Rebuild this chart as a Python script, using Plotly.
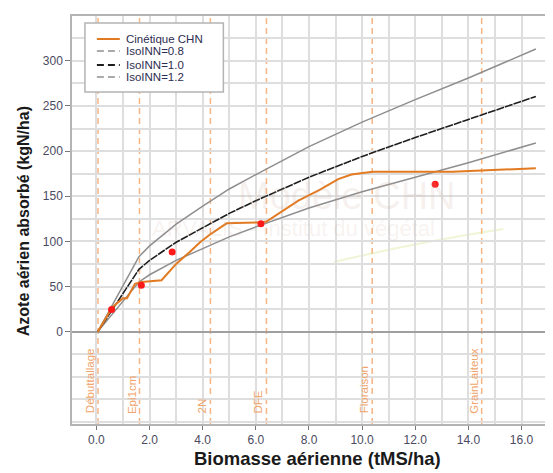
import plotly.graph_objects as go

# ---------------- data ----------------
biomass_iso = [0.05, 1.6, 2, 3, 4, 5, 6, 8, 10, 12, 14, 16.54]
inn_08 = [0, 55, 63, 79, 92, 105, 116, 137, 155, 171, 187, 209]
inn_10 = [0, 69, 79, 99, 115, 131, 145, 171, 194, 215, 235, 260.5]
inn_12 = [0, 83, 95, 119, 139, 158, 174, 205, 232, 257, 281, 313]

kin_x = [0.05, 0.6, 1.0, 1.15, 1.45, 1.7, 2.45, 3.0, 3.5, 3.9, 4.25, 4.9,
         6.15, 6.4, 7.6, 8.4, 9.1, 9.6, 10.1, 10.4, 13.4, 15.1, 16.54]
kin_y = [0, 27, 37, 37, 53, 55, 57, 75, 88, 99, 107, 120,
         121, 122, 145, 157, 169, 174, 176, 177, 177, 179, 181]

obs_x = [0.57, 1.69, 2.85, 6.19, 12.75]
obs_y = [24.5, 51.4, 88.3, 119.5, 163.2]

stage_x = [0.06, 1.62, 4.29, 6.4, 10.38, 14.5]
stage_names = ["Débuttallage", "Epi1cm", "2N", "DFE", "Floraison", "GrainLaiteux"]

x_ticks = [0, 2, 4, 6, 8, 10, 12, 14, 16]
y_ticks = [0, 50, 100, 150, 200, 250, 300]

legend_names = ["Cinétique CHN", "IsoINN=0.8", "IsoINN=1.0", "IsoINN=1.2"]

# ---------------- styling ----------------
FONT = "Liberation Sans"
ORANGE = "#e27a22"
STAGE = "#f6b584"
GRAY = "#8e8e8e"
BLACK = "#1e1e1e"
GRID = "#dedede"

# the page body has an 8px margin: figure sits at (8, 8)
W, H = 545, 465
ML, MR, MT, MB = 64, 0, 8, 49
PLOT_L, PLOT_T, PLOT_W, PLOT_H = 72, 16, 481, 408   # in page pixels


def px_x(px):
    return (px - PLOT_L) / PLOT_W


def px_y(py):
    return (PLOT_T + PLOT_H - py) / PLOT_H


fig = go.Figure()

fig.add_trace(go.Scatter(x=biomass_iso, y=inn_08, mode="lines",
                         line=dict(color=GRAY, width=1.5), showlegend=False))
fig.add_trace(go.Scatter(x=biomass_iso, y=inn_12, mode="lines",
                         line=dict(color=GRAY, width=1.5), showlegend=False))
fig.add_trace(go.Scatter(x=biomass_iso, y=inn_10, mode="lines",
                         line=dict(color=BLACK, width=1.6, dash="8px,1px"),
                         showlegend=False))
fig.add_trace(go.Scatter(x=kin_x, y=kin_y, mode="lines",
                         line=dict(color=ORANGE, width=2), showlegend=False))
fig.add_trace(go.Scatter(x=obs_x, y=obs_y, mode="markers",
                         marker=dict(color="#ff1a1a", size=7), showlegend=False))

shapes = []
annotations = []

# phenological stages
for sx, name in zip(stage_x, stage_names):
    shapes.append(dict(type="line", xref="x", yref="paper", x0=sx, x1=sx, y0=0, y1=1,
                       line=dict(color=STAGE, width=1.5, dash="6px,4px"), layer="between"))
    annotations.append(dict(x=sx, y=-93, xref="x", yref="y", text=name, textangle=-90,
                            showarrow=False, xanchor="right", yanchor="bottom", xshift=0,
                            font=dict(family=FONT, size=11.5, color="#f0a56c")))

# watermark
annotations.append(dict(x=px_x(348), y=px_y(196), xref="paper", yref="paper",
                        text="Modèle CHN", showarrow=False,
                        font=dict(family=FONT, size=38, color="rgba(200,160,150,0.17)")))
annotations.append(dict(x=px_x(294), y=px_y(229), xref="paper", yref="paper",
                        text="ARVALIS - Institut du végétal", showarrow=False,
                        font=dict(family=FONT, size=22, color="rgba(200,160,150,0.15)")))
shapes.append(dict(type="path", xref="paper", yref="paper",
                   path="M %f %f Q %f %f %f %f" % (px_x(335), px_y(262), px_x(420), px_y(242),
                                                    px_x(505), px_y(229)),
                   line=dict(color="rgba(200,225,120,0.3)", width=2), layer="between"))

# legend (manual)
shapes.append(dict(type="rect", xref="paper", yref="paper",
                   x0=px_x(85), x1=px_x(224), y0=px_y(92), y1=px_y(23),
                   fillcolor="white", line=dict(color="#b4b4b4", width=1.5), layer="above"))
leg_styles = [dict(color=ORANGE, width=2, dash="solid"),
              dict(color=GRAY, width=1.5, dash="7px,4px"),
              dict(color=BLACK, width=1.8, dash="7px,4px"),
              dict(color=GRAY, width=1.5, dash="7px,4px")]
for name, ly, st in zip(legend_names, [39, 51, 65, 77], leg_styles):
    shapes.append(dict(type="line", xref="paper", yref="paper",
                       x0=px_x(97), x1=px_x(120), y0=px_y(ly), y1=px_y(ly),
                       line=st, layer="above"))
    annotations.append(dict(x=px_x(124), y=px_y(ly), xref="paper", yref="paper",
                            text=name, showarrow=False, xanchor="left", yanchor="middle",
                            font=dict(family=FONT, size=11.5, color="#2d2d50")))

# axis titles
annotations.append(dict(x=px_x(319), y=px_y(459), xref="paper", yref="paper",
                        text="<b>Biomasse aérienne (tMS/ha)</b>", showarrow=False,
                        xanchor="center", yanchor="middle",
                        font=dict(family=FONT, size=18.5, color="#1a1a1a")))
annotations.append(dict(x=px_x(23), y=px_y(221), xref="paper", yref="paper",
                        text="<b>Azote aérien absorbé (kgN/ha)</b>", showarrow=False,
                        textangle=-90, xanchor="center", yanchor="middle",
                        font=dict(family=FONT, size=16, color="#1a1a1a")))

fig.update_layout(
    width=W, height=H,
    margin=dict(l=ML, r=MR, t=MT, b=MB),
    paper_bgcolor="white", plot_bgcolor="white",
    shapes=shapes, annotations=annotations,
    showlegend=False,
    xaxis=dict(range=[-0.92, 17.11], tickvals=x_ticks,
               ticktext=["%.1f" % v for v in x_ticks],
               showgrid=True, gridcolor=GRID, gridwidth=1.5,
               minor=dict(dtick=1, tick0=0, showgrid=True, gridcolor=GRID, gridwidth=1.5),
               ticks="outside", ticklen=4, tickcolor="#777",
               showline=True, linecolor="#b4b4b4", linewidth=1.5, mirror=True,
               zeroline=False,
               tickfont=dict(family=FONT, size=12, color="#4a4a60")),
    yaxis=dict(range=[-102.3, 349.6], tickvals=y_ticks,
               showgrid=True, gridcolor=GRID, gridwidth=1.5,
               minor=dict(dtick=25, tick0=0, showgrid=True, gridcolor=GRID, gridwidth=1.5),
               ticks="outside", ticklen=5, tickcolor="#777",
               showline=True, linecolor="#b4b4b4", linewidth=1.5, mirror=True,
               zeroline=True, zerolinecolor="#a0a0a0", zerolinewidth=1.5,
               tickfont=dict(family=FONT, size=12, color="#4a4a60")),
)

fig.write_html("out.html")
